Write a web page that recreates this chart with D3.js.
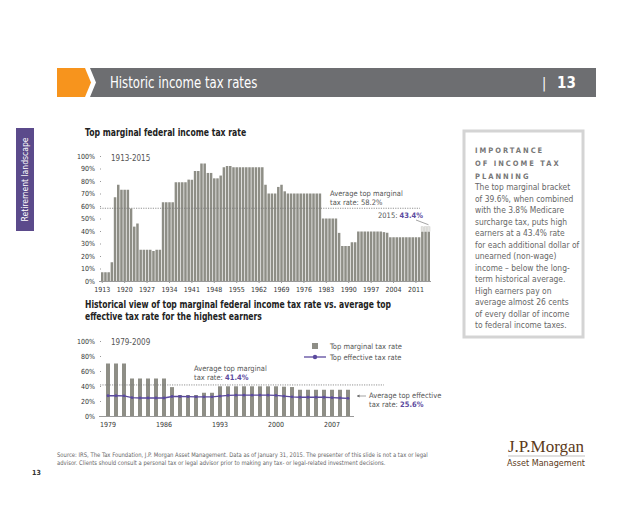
<!DOCTYPE html>
<html>
<head>
<meta charset="utf-8">
<script src="https://cdn.jsdelivr.net/npm/d3@7"></script>
<style>
  body { margin: 0; background: #fff; }
  svg text { font-family: "Liberation Sans Narrow", "DejaVu Sans Condensed", "Open Sans", sans-serif; }
  .tick text { fill: #333; font-size: 7px; }
  .axis path, .axis line { stroke: #999; }
  .ctitle { font-size: 10px; font-weight: bold; fill: #222; }
  .note { font-size: 7.5px; fill: #555; }
  .body { font-size: 9.6px; fill: #666; }
</style>
</head>
<body>
<div id="chart"></div>
<script>
const width = 640;
const height = 519;

// top chart: top marginal rate 1913-2015
const topYears = d3.range(1913, 2016);
const topRates = [
  7, 7, 7, 15, 67, 77, 73, 73, 73, 58, 43.5, 46, 25, 25, 25, 25, 24, 25, 25,
  63, 63, 63, 63, 79, 79, 79, 79, 81.1, 81, 88, 88, 94, 94, 86.45, 86.45,
  82.13, 82.13, 84.36, 91, 92, 92,
  91, 91, 91, 91, 91, 91, 91, 91, 91, 91,
  77, 70, 70, 70, 75.25, 77, 71.75,
  70, 70, 70, 70, 70, 70, 70, 70, 70, 70, 70,
  50, 50, 50, 50, 50,
  38.5, 28, 28, 28, 31, 31,
  39.6, 39.6, 39.6, 39.6, 39.6, 39.6, 39.6, 39.6,
  39.1, 38.6,
  35, 35, 35, 35, 35, 35, 35, 35, 35, 35,
  39.6, 39.6, 39.6
];
const topTickYears = [1913, 1920, 1927, 1934, 1941, 1948, 1955, 1962, 1969, 1976, 1983, 1990, 1997, 2004, 2011];
const topAvg = 58.2;
const surtaxYears = [2013, 2014, 2015];
const surtaxRate = 3.8;

// bottom chart: 1979-2009
const botYears = d3.range(1979, 2010);
const botMarginal = [
  70, 70, 70, 50, 50, 50, 50, 50, 38.5, 28, 28, 28, 31, 31,
  39.6, 39.6, 39.6, 39.6, 39.6, 39.6, 39.6, 39.6, 39.1, 38.6,
  35, 35, 35, 35, 35, 35, 35
];
const botEffective = [
  27.0, 27.0, 26.9, 24.5, 24.0, 24.0, 24.0, 24.0, 26.0, 26.0, 25.8, 25.6, 25.6, 25.6,
  26.5, 27.5, 27.8, 27.8, 27.8, 27.8, 27.8, 27.5, 26.5, 25.5,
  25.0, 25.0, 25.0, 25.0, 24.5, 24.0, 23.6
];
const botTickYears = [1979, 1986, 1993, 2000, 2007];
const botAvgMarginal = 41.4;
const botAvgEffective = 25.6;

const topTicks = d3.range(0, 101, 10);
const botTicks = d3.range(0, 101, 20);

const sideHead = ["IMPORTANCE", "OF INCOME TAX", "PLANNING"];
const sideText = [
  "The top marginal bracket",
  "of 39.6%, when combined",
  "with the 3.8% Medicare",
  "surcharge tax, puts high",
  "earners at a 43.4% rate",
  "for each additional dollar of",
  "unearned (non-wage)",
  "income \u2013 below the long-",
  "term historical average.",
  "High earners pay on",
  "average almost 26 cents",
  "of every dollar of income",
  "to federal income taxes."
];

const barColor = "#8e8e86";
const purple = "#5b4a9e";

const svg = d3.select("#chart").append("svg")
  .attr("width", width)
  .attr("height", height);

// text squeezed horizontally, to mimic the condensed face of the original
function narrow(x, y, sx) {
  return svg.append("text")
    .attr("transform", `translate(${x},${y}) scale(${sx},1)`);
}

// header band
svg.append("polygon")
  .attr("points", "57,68 85,68 91,82.5 85,97 57,97")
  .style("fill", "#f7941d");
svg.append("polygon")
  .attr("points", "90,68 596,68 596,97 90,97 96,82.5")
  .style("fill", "#6d6e71");
narrow(110, 88, 0.87)
  .style("font-size", "15px").style("fill", "#fff")
  .text("Historic income tax rates");
svg.append("text")
  .attr("x", 542).attr("y", 88)
  .style("font-size", "14px").style("fill", "#fff")
  .text("|");
svg.append("text")
  .attr("x", 557).attr("y", 88)
  .style("font-size", "15px").style("font-weight", "bold").style("fill", "#fff")
  .text("13");

// side tab
svg.append("rect")
  .attr("x", 16).attr("y", 128)
  .attr("width", 18).attr("height", 103)
  .style("fill", "#5b4a8b");
svg.append("text")
  .attr("transform", "translate(28,179.5) rotate(-90) scale(0.9,1)")
  .style("text-anchor", "middle")
  .style("font-size", "9.5px").style("fill", "#fff")
  .text("Retirement landscape");

// ---------- top chart ----------
narrow(85, 136, 0.86).attr("class", "ctitle")
  .text("Top marginal federal income tax rate");

const x1 = d3.scaleBand()
  .domain(topYears)
  .range([101, 430])
  .paddingInner(0.22)
  .paddingOuter(0);

const y1 = d3.scaleLinear()
  .domain([0, 100])
  .range([281, 156]);

svg.append("g")
  .attr("class", "axis")
  .attr("transform", "translate(100,0)")
  .call(d3.axisLeft(y1).tickValues(topTicks).tickSize(2).tickFormat(d => d + "%"))
  .call(g => g.select(".domain").remove())
  .call(g => g.selectAll(".tick line").attr("x2", 1));

svg.selectAll("rect.bar1")
  .data(topYears)
  .enter()
  .append("rect")
  .attr("class", "bar1")
  .attr("x", d => x1(d))
  .attr("y", (d, i) => y1(topRates[i]))
  .attr("width", x1.bandwidth())
  .attr("height", (d, i) => y1(0) - y1(topRates[i]))
  .style("fill", barColor);

svg.selectAll("rect.surtax")
  .data(surtaxYears)
  .enter()
  .append("rect")
  .attr("class", "surtax")
  .attr("x", d => x1(d))
  .attr("y", d => y1(topRates[topYears.indexOf(d)] + surtaxRate))
  .attr("width", x1.bandwidth())
  .attr("height", y1(0) - y1(surtaxRate))
  .style("fill", "#e4e4e2")
  .style("stroke", "#c8c8c4")
  .style("stroke-width", 0.5);

svg.append("g")
  .attr("class", "axis")
  .attr("transform", "translate(0,281)")
  .call(d3.axisBottom(x1).tickValues(topTickYears).tickSize(2))
  .call(g => g.select(".domain").attr("d", "M99,0.5H431"))
  .call(g => g.selectAll(".tick text").attr("dy", "0.9em"));

svg.append("line")
  .attr("x1", 100).attr("x2", 420)
  .attr("y1", y1(topAvg)).attr("y2", y1(topAvg))
  .style("stroke", "#777").style("stroke-width", 0.8)
  .style("stroke-dasharray", "1.2,1.2");

svg.append("text").attr("class", "note")
  .attr("x", 330).attr("y", 196)
  .text("Average top marginal");
svg.append("text").attr("class", "note")
  .attr("x", 330).attr("y", 205)
  .text("tax rate: " + topAvg + "%");

const y2015 = svg.append("text").attr("class", "note")
  .attr("x", 378).attr("y", 218);
y2015.append("tspan").text("2015: ");
y2015.append("tspan").style("fill", purple).style("font-weight", "bold").text("43.4%");

svg.append("line")
  .attr("x1", 416).attr("y1", 220)
  .attr("x2", x1(2015) + 1).attr("y2", y1(43.4) - 2)
  .style("stroke", "#666").style("stroke-width", 0.6);

svg.append("text")
  .attr("x", 111).attr("y", 161)
  .style("font-size", "8px").style("fill", "#555")
  .text("1913-2015");

// ---------- bottom chart ----------
narrow(85, 308, 0.85).attr("class", "ctitle")
  .text("Historical view of top marginal federal income tax rate vs. average top");
narrow(85, 320, 0.85).attr("class", "ctitle")
  .text("effective tax rate for the highest earners");

const x2 = d3.scaleBand()
  .domain(botYears)
  .range([104, 352])
  .paddingInner(0.5)
  .paddingOuter(0.25);

const y2 = d3.scaleLinear()
  .domain([0, 100])
  .range([416, 341]);

svg.append("g")
  .attr("class", "axis")
  .attr("transform", "translate(100,0)")
  .call(d3.axisLeft(y2).tickValues(botTicks).tickSize(2).tickFormat(d => d + "%"))
  .call(g => g.select(".domain").remove())
  .call(g => g.selectAll(".tick line").attr("x2", 1));

svg.selectAll("rect.bar2")
  .data(botYears)
  .enter()
  .append("rect")
  .attr("class", "bar2")
  .attr("x", d => x2(d))
  .attr("y", (d, i) => y2(botMarginal[i]))
  .attr("width", x2.bandwidth())
  .attr("height", (d, i) => y2(0) - y2(botMarginal[i]))
  .style("fill", barColor);

svg.append("g")
  .attr("class", "axis")
  .attr("transform", "translate(0,416)")
  .call(d3.axisBottom(x2).tickValues(botTickYears).tickSize(0))
  .call(g => g.select(".domain").attr("d", "M99,0.5H354"))
  .call(g => g.selectAll(".tick text").attr("dy", "1.1em"));

svg.append("line")
  .attr("x1", 100).attr("x2", 384)
  .attr("y1", y2(botAvgMarginal)).attr("y2", y2(botAvgMarginal))
  .style("stroke", "#777").style("stroke-width", 0.8)
  .style("stroke-dasharray", "1.2,1.2");

const effLine = d3.line()
  .x((d, i) => x2(botYears[i]) + x2.bandwidth() / 2)
  .y(d => y2(d));

svg.append("path")
  .datum(botEffective)
  .attr("d", effLine)
  .style("fill", "none")
  .style("stroke", purple)
  .style("stroke-width", 1.3);

svg.selectAll("circle.eff")
  .data(botEffective)
  .enter()
  .append("circle")
  .attr("class", "eff")
  .attr("cx", (d, i) => x2(botYears[i]) + x2.bandwidth() / 2)
  .attr("cy", d => y2(d))
  .attr("r", 1.4)
  .style("fill", purple);

svg.append("text")
  .attr("x", 111).attr("y", 345)
  .style("font-size", "8px").style("fill", "#555")
  .text("1979-2009");

svg.append("text").attr("class", "note")
  .attr("x", 194).attr("y", 371)
  .text("Average top marginal");
const avgM = svg.append("text").attr("class", "note")
  .attr("x", 194).attr("y", 380);
avgM.append("tspan").text("tax rate: ");
avgM.append("tspan").style("fill", purple).style("font-weight", "bold").text(botAvgMarginal + "%");

// effective average callout
svg.append("line")
  .attr("x1", 357).attr("x2", 366)
  .attr("y1", 396).attr("y2", 396)
  .style("stroke", "#666").style("stroke-width", 0.6);
svg.append("path")
  .attr("d", "M357,396 l2.5,-1.5 v3 z")
  .style("fill", "#666");
svg.append("text").attr("class", "note")
  .attr("x", 369).attr("y", 398)
  .text("Average top effective");
const avgE = svg.append("text").attr("class", "note")
  .attr("x", 369).attr("y", 407);
avgE.append("tspan").text("tax rate: ");
avgE.append("tspan").style("fill", purple).style("font-weight", "bold").text(botAvgEffective + "%");

// legend
svg.append("rect")
  .attr("x", 312).attr("y", 343)
  .attr("width", 6).attr("height", 6)
  .style("fill", barColor);
svg.append("text").attr("class", "note")
  .attr("x", 330).attr("y", 349)
  .text("Top marginal tax rate");
svg.append("line")
  .attr("x1", 304).attr("x2", 326)
  .attr("y1", 357).attr("y2", 357)
  .style("stroke", purple).style("stroke-width", 1.3);
svg.append("circle")
  .attr("cx", 315).attr("cy", 357).attr("r", 2.2)
  .style("fill", purple);
svg.append("text").attr("class", "note")
  .attr("x", 330).attr("y", 360)
  .text("Top effective tax rate");

// ---------- side box ----------
svg.append("rect")
  .attr("x", 464).attr("y", 131)
  .attr("width", 119).attr("height", 206)
  .style("fill", "none")
  .style("stroke", "#d4d4d4")
  .style("stroke-width", 3);

sideHead.forEach((t, i) => {
  svg.append("text")
    .attr("x", 475).attr("y", 153 + i * 13)
    .style("font-size", "7.5px")
    .style("font-weight", "bold")
    .style("letter-spacing", "2px")
    .style("fill", "#777")
    .text(t);
});

sideText.forEach((t, i) => {
  narrow(475, 190 + i * 11.5, 0.875).attr("class", "body").text(t);
});

// ---------- footer ----------
narrow(57, 457, 0.93)
  .style("font-size", "6.3px").style("fill", "#666")
  .text("Source: IRS, The Tax Foundation, J.P. Morgan Asset Management. Data as of January 31, 2015. The presenter of this slide is not a tax or legal");
narrow(57, 465, 0.93)
  .style("font-size", "6.3px").style("fill", "#666")
  .text("advisor. Clients should consult a personal tax or legal advisor prior to making any tax- or legal-related investment decisions.");
svg.append("text")
  .attr("x", 32).attr("y", 475)
  .style("font-size", "7px").style("font-weight", "bold").style("fill", "#333")
  .text("13");

svg.append("text")
  .attr("x", 546).attr("y", 452)
  .style("text-anchor", "middle")
  .style("font-family", "'Liberation Serif', 'DejaVu Serif', serif")
  .style("font-size", "17px").style("fill", "#5c3a1a")
  .text("J.P.Morgan");
svg.append("line")
  .attr("x1", 508).attr("x2", 585)
  .attr("y1", 456).attr("y2", 456)
  .style("stroke", "#999").style("stroke-width", 0.6);
svg.append("text")
  .attr("x", 546).attr("y", 466)
  .style("text-anchor", "middle")
  .style("font-size", "9px").style("fill", "#5c3a1a")
  .text("Asset Management");
</script>
</body>
</html>
